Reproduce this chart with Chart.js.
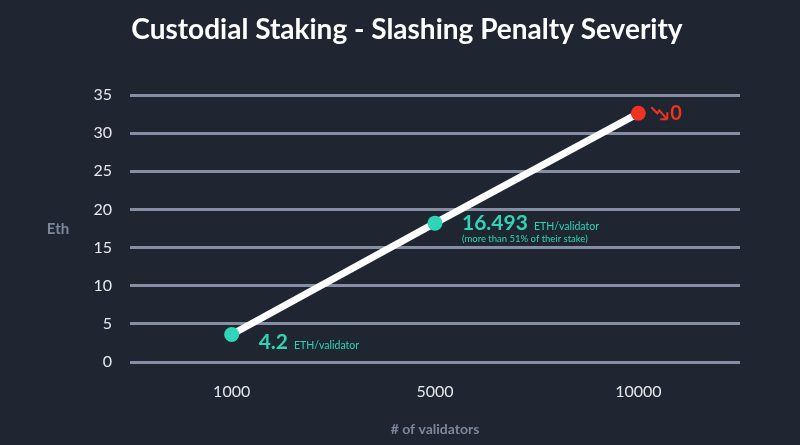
<!DOCTYPE html>
<html>
<head>
<meta charset="utf-8">
<script src="https://cdn.jsdelivr.net/npm/chart.js@4"></script>
<style>
  html, body { margin: 0; padding: 0; background: #1f2531; }
  #wrap { width: 800px; height: 445px; position: relative; }
</style>
</head>
<body>
<div id="wrap"><canvas id="slashChart"></canvas></div>
<script>
const validatorCounts = ["1000", "5000", "10000"];
const ethPenalty = [3.6, 18.2, 32.6];
const yTicks = [0, 5, 10, 15, 20, 25, 30, 35];
const bigLabels = ["4.2", "16.493", "0"];
const unitLabels = ["ETH/validator", "ETH/validator", ""];
const noteLabels = ["", "(more than 51% of their stake)", ""];

const TEAL = "#2fd5b6";
const RED = "#ee3322";
const GRID = "#858ea3";
const FONT = "Lato, 'Open Sans', sans-serif";

const pointColors = ethPenalty.map((v, i) => (i === ethPenalty.length - 1 ? RED : TEAL));

const extras = {
  id: "extras",
  afterDatasetsDraw(chart) {
    const ctx = chart.ctx;
    const meta = chart.getDatasetMeta(0);
    ctx.save();
    ctx.textBaseline = "alphabetic";
    meta.data.forEach((pt, i) => {
      const last = i === meta.data.length - 1;
      if (last) {
        // small zigzag arrow, then the value
        const x0 = pt.x + 13, y0 = pt.y - 6;
        ctx.strokeStyle = RED;
        ctx.lineWidth = 2;
        ctx.beginPath();
        ctx.moveTo(x0, y0);
        ctx.lineTo(x0 + 6, y0 + 6);
        ctx.lineTo(x0 + 8, y0 + 3);
        ctx.lineTo(x0 + 15, y0 + 11);
        ctx.stroke();
        ctx.beginPath();
        ctx.moveTo(x0 + 16, y0 + 12);
        ctx.lineTo(x0 + 16, y0 + 5);
        ctx.moveTo(x0 + 16, y0 + 12);
        ctx.lineTo(x0 + 9, y0 + 12);
        ctx.stroke();
        ctx.fillStyle = RED;
        ctx.font = "bold 20px " + FONT;
        ctx.fillText(bigLabels[i], pt.x + 32, pt.y + 7);
        return;
      }
      const bx = pt.x + 27;
      const by = i === 0 ? pt.y + 14 : pt.y + 7;
      ctx.fillStyle = TEAL;
      ctx.font = "bold 21px " + FONT;
      ctx.fillText(bigLabels[i], bx, by);
      const w = ctx.measureText(bigLabels[i]).width;
      ctx.font = "10.5px " + FONT;
      ctx.fillText(unitLabels[i], bx + w + 6, by);
      if (noteLabels[i]) {
        ctx.font = "9.5px " + FONT;
        ctx.fillText(noteLabels[i], bx, by + 12);
      }
    });
    ctx.restore();
  },
  afterDraw(chart) {
    const ctx = chart.ctx;
    const area = chart.chartArea;
    ctx.save();
    ctx.textAlign = "center";
    ctx.textBaseline = "middle";
    ctx.fillStyle = "#ffffff";
    ctx.font = "bold 28px " + FONT;
    ctx.fillText("Custodial Staking - Slashing Penalty Severity", 407, 30);
    ctx.fillStyle = "#7d879b";
    ctx.font = "bold 15px " + FONT;
    ctx.fillText("Eth", 58, (area.top + area.bottom) / 2 + 1);
    ctx.restore();
  }
};

new Chart(document.getElementById("slashChart").getContext("2d"), {
  type: "line",
  data: {
    labels: validatorCounts,
    datasets: [
      {
        data: ethPenalty,
        borderColor: "#ffffff",
        borderWidth: 7,
        pointRadius: 7.5,
        pointHoverRadius: 7.5,
        pointBackgroundColor: pointColors,
        pointBorderWidth: 0,
        tension: 0,
        fill: false,
      },
    ],
  },
  options: {
    responsive: true,
    maintainAspectRatio: false,
    animation: false,
    layout: { padding: { left: 0, right: 60, top: 95, bottom: 0 } },
    plugins: {
      legend: { display: false },
      tooltip: { enabled: false },
      title: { display: false },
    },
    scales: {
      x: {
        offset: true,
        grid: { display: false, drawTicks: false },
        border: { display: false },
        ticks: { color: "#e6e8ec", font: { family: FONT, size: 16 }, padding: 20 },
        title: {
          display: true,
          text: "# of validators",
          color: "#7d879b",
          font: { family: FONT, size: 14, weight: "bold" },
          padding: { top: 0, bottom: 7 },
        },
      },
      y: {
        min: 0,
        max: 35,
        afterBuildTicks: (scale) => {
          scale.ticks = yTicks.map((v) => ({ value: v }));
        },
        afterFit: (scale) => {
          scale.width = 130;
        },
        grid: { color: GRID, lineWidth: 3, drawTicks: false },
        border: { display: false },
        ticks: { color: "#e6e8ec", font: { family: FONT, size: 16 }, padding: 18 },
      },
    },
  },
  plugins: [extras],
});
</script>
</body>
</html>
